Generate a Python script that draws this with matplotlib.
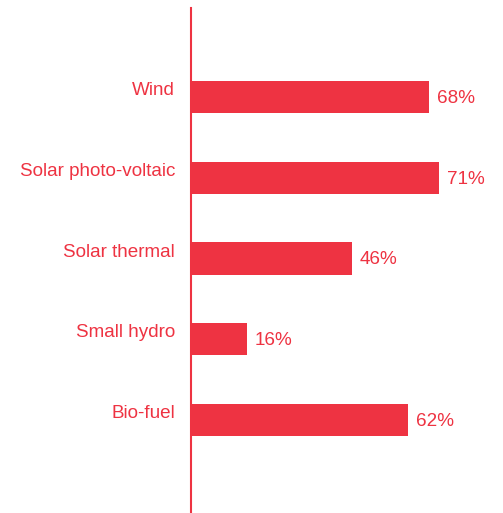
import matplotlib
matplotlib.use("Agg")
import matplotlib.pyplot as plt

# ----------------------------- Data -----------------------------
categories = ["Wind", "Solar photo-voltaic", "Solar thermal", "Small hydro", "Bio-fuel"]
values = [68, 71, 46, 16, 62]
value_labels = ["68%", "71%", "46%", "16%", "62%"]

RED = "#EE3342"
plt.rcParams['font.family'] = ['Liberation Sans', 'DejaVu Sans']

W, H = 503, 513
fig = plt.figure(figsize=(W / 100, H / 100), dpi=100)
# axes: left spine at x=190px, spans y=8..513px
ax = fig.add_axes([190.5 / W, 0, 350 / W, (H - 8) / H])

ypos = list(range(len(categories)))
ax.barh(ypos, values, height=0.40, color=RED, left=0)
ax.set_xlim(0, 100)
ax.set_ylim(len(categories) - 1 + 1.152, -1.102)

for y, v, cat, lab in zip(ypos, values, categories, value_labels):
    ax.annotate(cat, (0, y), xytext=(-11, 4.5), textcoords="offset points",
                ha="right", va="center", color=RED, fontsize=13.6)
    ax.annotate(lab, (v, y), xytext=(6, -1), textcoords="offset points",
                ha="left", va="center", color=RED, fontsize=13.6)

for s in ["top", "right", "bottom"]:
    ax.spines[s].set_visible(False)
ax.spines["left"].set_color(RED)
ax.spines["left"].set_linewidth(1.5)
ax.set_xticks([])
ax.set_yticks([])
ax.patch.set_visible(False)

fig.savefig("out.png", dpi=100)
